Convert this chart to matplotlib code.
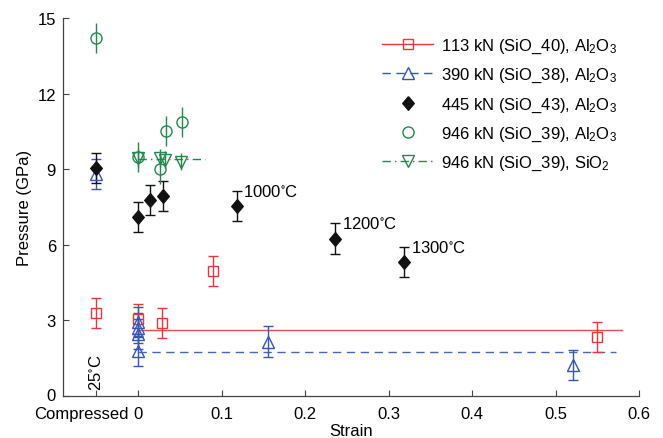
import matplotlib
matplotlib.use("Agg")
import matplotlib.pyplot as plt
from matplotlib.lines import Line2D
from matplotlib.transforms import ScaledTranslation

plt.rcParams['font.family'] = ['Liberation Sans', 'DejaVu Sans']
plt.rcParams['mathtext.fontset'] = 'custom'
plt.rcParams['mathtext.rm'] = 'Liberation Sans'
plt.rcParams['mathtext.it'] = 'Liberation Sans:italic'
plt.rcParams['mathtext.default'] = 'regular'

# ---- data ----
COMP = -0.05  # position of the "Compressed" category on the strain axis

red_x = [COMP, 0.0, 0.028, 0.09, 0.55]
red_y = [3.28, 3.05, 2.91, 4.95, 2.34]
red_err = [0.6, 0.6, 0.6, 0.6, 0.6]
red_line_x = [0.0, 0.58]
red_line_y = [2.6, 2.6]

blue_x = [COMP, 0.0, 0.0, 0.0, 0.0, 0.156, 0.521]
blue_y = [8.8, 2.95, 2.7, 2.45, 1.8, 2.16, 1.22]
blue_err = [0.6, 0.6, 0.6, 0.6, 0.6, 0.6, 0.6]
blue_line_x = [0.0, 0.573]
blue_line_y = [1.76, 1.76]

black_x = [COMP, 0.0, 0.014, 0.030, 0.118, 0.236, 0.319]
black_y = [9.06, 7.1, 7.78, 7.93, 7.53, 6.25, 5.31]
black_err = [0.6, 0.6, 0.6, 0.6, 0.6, 0.6, 0.6]

green_c_x = [COMP, 0.0, 0.026, 0.033, 0.052]
green_c_y = [14.2, 9.48, 9.01, 10.53, 10.87]
green_c_err = [0.6, 0.6, 0.6, 0.6, 0.6]

green_t_x = [0.0, 0.026, 0.032, 0.051]
green_t_y = [9.45, 9.45, 9.38, 9.3]
green_t_err = [0.35, 0.35, 0.35, 0.35]
green_line_x = [0.0, 0.08]
green_line_y = [9.4, 9.4]

temp_labels = ['1000$^{\\circ}$C', '1200$^{\\circ}$C', '1300$^{\\circ}$C']
temp_x = [0.118, 0.236, 0.319]
temp_y = [7.53, 6.25, 5.31]

xticks = [COMP, 0.0, 0.1, 0.2, 0.3, 0.4, 0.5, 0.6]
xticklabels = ['Compressed', '0', '0.1', '0.2', '0.3', '0.4', '0.5', '0.6']
yticks = [0, 3, 6, 9, 12, 15]

legend_labels = ['113 kN (SiO_40), Al$_2$O$_3$',
                 '390 kN (SiO_38), Al$_2$O$_3$',
                 '445 kN (SiO_43), Al$_2$O$_3$',
                 '946 kN (SiO_39), Al$_2$O$_3$',
                 '946 kN (SiO_39), SiO$_2$']

RED = '#e8383d'
BLUE = '#3556b3'
GREEN = '#1f8a4c'
BLACK = '#111111'
FS = 12

DIAMOND = [(0, 1), (0.85, 0), (0, -1), (-0.85, 0), (0, 1)]

fig = plt.figure(figsize=(6.63, 4.39), dpi=100)
ax = fig.add_axes([63 / 663, 1 - 397 / 439, (639 - 63) / 663, (397 - 19) / 439])

# mean lines
ax.plot(red_line_x, red_line_y, '-', color=RED, lw=1.0, alpha=0.9)
ax.plot(blue_line_x, blue_line_y, '--', color=BLUE, lw=1.0, dashes=(6, 4), alpha=0.9)
ax.plot(green_line_x, green_line_y, '-.', color=GREEN, lw=1.0, dashes=(6, 3, 1, 3))

ebkw = dict(ls='none', capsize=3.6, elinewidth=1.0, capthick=1.0)
ax.errorbar(red_x, red_y, yerr=red_err, marker='s', ms=6.6, mfc='none', mec=RED,
            color=RED, mew=1.0, **ebkw)
ax.errorbar(blue_x, blue_y, yerr=blue_err, marker='^', ms=8.5, mfc='none', mec=BLUE,
            color=BLUE, mew=1.0, **ebkw)
ax.errorbar(black_x, black_y, yerr=black_err, marker=DIAMOND, ms=9.8, mfc=BLACK, mec=BLACK,
            color=BLACK, mew=1.0, **ebkw)
ax.errorbar(green_c_x, green_c_y, yerr=green_c_err, marker='o', ms=8, mfc='none', mec=GREEN,
            color=GREEN, mew=1.0, ls='none', capsize=0, elinewidth=1.0)
ax.errorbar(green_t_x, green_t_y, yerr=green_t_err, marker='v', ms=8.5, mfc='none', mec=GREEN,
            color=GREEN, mew=1.0, ls='none', capsize=0, elinewidth=1.0)

for t, x, y in zip(temp_labels, temp_x, temp_y):
    ax.text(x + 0.008, y + 0.6, t, fontsize=FS, ha='left', va='center')

ax.text(COMP, 0.95, '25$^{\\circ}$C', rotation=90, fontsize=FS, ha='center', va='center')

ax.set_xlim(-0.09, 0.6)
ax.set_ylim(0, 15)
ax.set_xticks(xticks)
ax.set_xticklabels(xticklabels, fontsize=FS)
ax.set_yticks(yticks)
ax.tick_params(labelsize=FS, direction='in', length=4, width=0.8, color='#444444')
ax.tick_params(axis='x', pad=7)
ax.tick_params(axis='y', pad=5)
lbl = ax.get_xticklabels()[0]
lbl.set_transform(lbl.get_transform() + ScaledTranslation(-0.15, 0, fig.dpi_scale_trans))
ylbl0 = ax.get_yticklabels()[0]
ylbl0.set_transform(ylbl0.get_transform() + ScaledTranslation(0, 0.02, fig.dpi_scale_trans))
for s in ['top', 'right']:
    ax.spines[s].set_visible(False)
for s in ['left', 'bottom']:
    ax.spines[s].set_color('#444444')
    ax.spines[s].set_linewidth(0.9)

ax.set_xlabel('Strain', fontsize=FS, labelpad=2)
ax.set_ylabel('Pressure (GPa)', fontsize=FS, labelpad=4)

handles = [
    Line2D([], [], color=RED, ls='-', marker='s', ms=6.6, mfc='none', mec=RED, lw=1.0),
    Line2D([], [], color=BLUE, ls='--', dashes=(6, 4), marker='^', ms=8.5, mfc='none', mec=BLUE, lw=1.0),
    Line2D([], [], color=BLACK, ls='none', marker=DIAMOND, ms=9.8, mfc=BLACK, mec=BLACK),
    Line2D([], [], color=GREEN, ls='none', marker='o', ms=8, mfc='none', mec=GREEN),
    Line2D([], [], color=GREEN, ls='-.', dashes=(6, 3, 1, 3), marker='v', ms=8.5, mfc='none', mec=GREEN, lw=1.0),
]
leg = ax.legend(handles, legend_labels, loc='upper left', bbox_to_anchor=(0.554, 0.950),
                frameon=False, fontsize=FS, handlelength=3.06, handletextpad=0.45,
                labelspacing=0.66, borderpad=0, borderaxespad=0)

fig.savefig('out.png', dpi=100)
